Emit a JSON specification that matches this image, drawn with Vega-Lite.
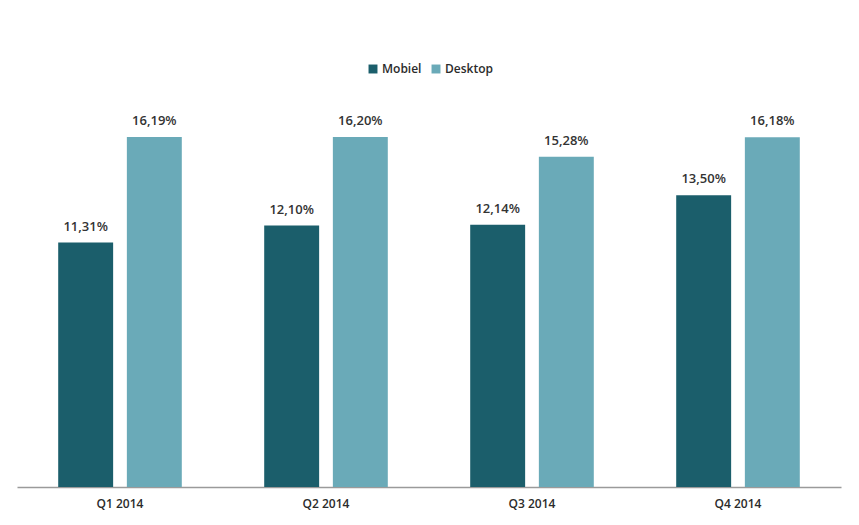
{
  "$schema": "https://vega.github.io/schema/vega-lite/v6.json",
  "autosize": {"type": "none"},
  "width": 824,
  "height": 389,
  "padding": {"left": 17, "top": 98, "right": 18, "bottom": 38},
  "background": "#ffffff",
  "data": {
    "values": [
      {"quarter": "Q1 2014", "series": "Mobiel", "value": 11.31},
      {"quarter": "Q1 2014", "series": "Desktop", "value": 16.19},
      {"quarter": "Q2 2014", "series": "Mobiel", "value": 12.10},
      {"quarter": "Q2 2014", "series": "Desktop", "value": 16.20},
      {"quarter": "Q3 2014", "series": "Mobiel", "value": 12.14},
      {"quarter": "Q3 2014", "series": "Desktop", "value": 15.28},
      {"quarter": "Q4 2014", "series": "Mobiel", "value": 13.50},
      {"quarter": "Q4 2014", "series": "Desktop", "value": 16.18}
    ]
  },
  "transform": [
    {"calculate": "replace(format(datum.value, '.2f'), '.', ',') + '%'", "as": "label"}
  ],
  "encoding": {
    "x": {
      "field": "quarter", "type": "nominal", "sort": null,
      "scale": {"paddingInner": 0.4, "paddingOuter": 0.2},
      "axis": {
        "title": null, "labelAngle": 0, "ticks": false,
        "domainColor": "#9a9a9a", "domainWidth": 1.5,
        "labelFont": "Open Sans", "labelFontSize": 12, "labelFontWeight": 600,
        "labelColor": "#2b2b2b", "labelPadding": 11
      }
    },
    "xOffset": {
      "field": "series", "type": "nominal", "sort": ["Mobiel", "Desktop"],
      "scale": {"paddingInner": 0.2, "paddingOuter": 0}
    },
    "y": {
      "field": "value", "type": "quantitative",
      "scale": {"domain": [0, 18], "nice": false},
      "axis": null
    }
  },
  "layer": [
    {
      "mark": {"type": "bar"},
      "encoding": {
        "color": {
          "field": "series", "type": "nominal", "sort": ["Mobiel", "Desktop"],
          "scale": {"domain": ["Mobiel", "Desktop"], "range": ["#1b5e6b", "#6aaab8"]},
          "legend": {
            "title": null, "orient": "none", "direction": "horizontal",
            "legendX": 350, "legendY": -35,
            "symbolType": "square", "symbolSize": 80, "symbolStrokeWidth": 0,
            "labelFont": "Open Sans", "labelFontSize": 12, "labelFontWeight": 600,
            "labelColor": "#2b2b2b", "columnPadding": 8, "labelOffset": 3
          }
        }
      }
    },
    {
      "mark": {
        "type": "text", "baseline": "bottom", "dy": -9,
        "font": "Open Sans", "fontSize": 13, "fontWeight": 600, "color": "#333333"
      },
      "encoding": {
        "text": {"field": "label", "type": "nominal"}
      }
    }
  ],
  "config": {"view": {"stroke": null}}
}
